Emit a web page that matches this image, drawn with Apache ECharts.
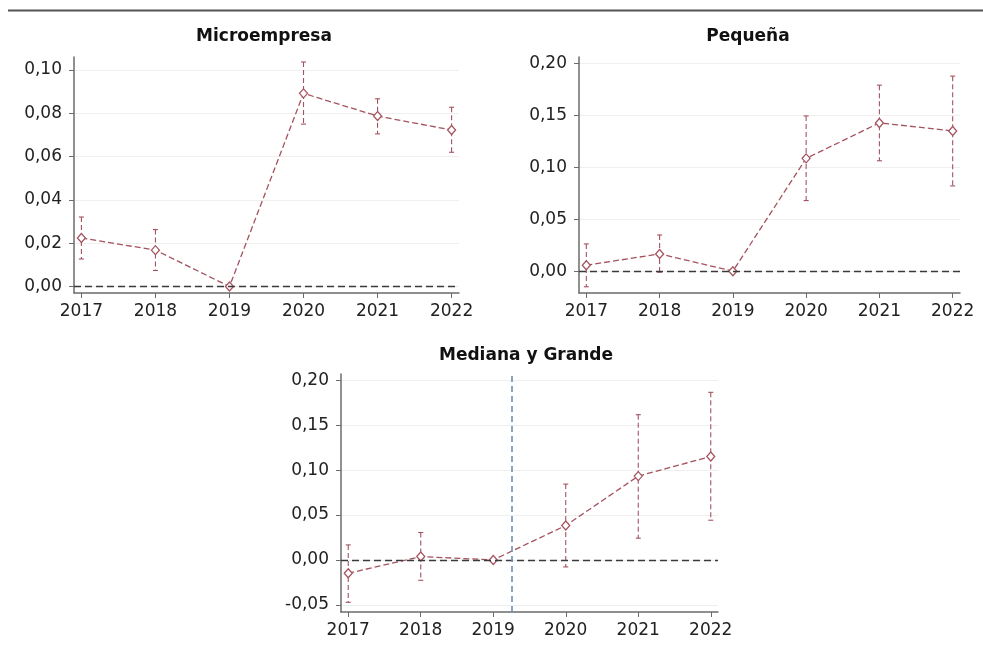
<!DOCTYPE html>
<html><head><meta charset="utf-8">
<script src="https://cdn.jsdelivr.net/npm/echarts@6/dist/echarts.min.js"></script>
<style>html,body{margin:0;padding:0;background:#fff}#c{width:983px;height:651px}</style>
</head><body><div id="c"></div>
<script>
const years = [2017, 2018, 2019, 2020, 2021, 2022];
const titles = ['Microempresa', 'Pequeña', 'Mediana y Grande'];

const microVal = [0.0224, 0.0168, 0, 0.0892, 0.0787, 0.0723];
const microLo  = [0.0127, 0.0074, null, 0.0750, 0.0705, 0.0620];
const microHi  = [0.0321, 0.0263, null, 0.1037, 0.0867, 0.0828];

const pequeVal = [0.0057, 0.0166, 0, 0.1085, 0.1426, 0.1349];
const pequeLo  = [-0.0150, -0.0010, null, 0.0679, 0.1062, 0.0820];
const pequeHi  = [0.0262, 0.0348, null, 0.1493, 0.1789, 0.1876];

const medVal = [-0.0149, 0.0037, 0, 0.0383, 0.0933, 0.1152];
const medLo  = [-0.0472, -0.0227, null, -0.0078, 0.0242, 0.0442];
const medHi  = [0.0167, 0.0305, null, 0.0844, 0.1617, 0.1866];

const microTicks = [0, 0.02, 0.04, 0.06, 0.08, 0.10];
const pequeTicks = [0, 0.05, 0.10, 0.15, 0.20];
const medTicks = [-0.05, 0, 0.05, 0.10, 0.15, 0.20];
const refLineX = 2019.25;

const RED = '#a4525e';
const AX = '#6b6b6b';
const FONT = 'DejaVu Sans';

const chart = echarts.init(document.getElementById('c'), null, {renderer: 'canvas'});

const grids = [
  {left: 74, top: 57, width: 385, height: 236},
  {left: 579, top: 57, width: 381, height: 236},
  {left: 341, top: 374, width: 377, height: 238}
];
const yRanges = [[-0.003, 0.106], [-0.021, 0.206], [-0.058, 0.207]];
const yTicks = [microTicks, pequeTicks, medTicks];
const vals = [microVal, pequeVal, medVal];
const los = [microLo, pequeLo, medLo];
const his = [microHi, pequeHi, medHi];

function fmtY(v) { return v.toFixed(2).replace('.', ','); }

const xAxes = grids.map((g, i) => ({
  type: 'value', gridIndex: i, min: 2016.9, max: 2022.1,
  axisLine: {show: true, onZero: false, lineStyle: {color: AX, width: 1.5}},
  axisTick: {show: true, length: 5, customValues: years, lineStyle: {color: AX}},
  axisLabel: {customValues: years, formatter: v => String(v), color: '#222', fontFamily: FONT, fontSize: 17, margin: 10},
  splitLine: {show: false}
}));
const yAxes = grids.map((g, i) => ({
  type: 'value', gridIndex: i, min: yRanges[i][0], max: yRanges[i][1],
  axisLine: {show: true, onZero: false, lineStyle: {color: AX, width: 1.5}},
  axisTick: {show: true, length: 5, customValues: yTicks[i], lineStyle: {color: AX}},
  axisLabel: {customValues: yTicks[i], formatter: fmtY, color: '#222', fontFamily: FONT, fontSize: 17, margin: 12},
  splitLine: {show: true, lineStyle: {color: '#efefef', width: 1}}
}));

const series = [];
grids.forEach((g, i) => {
  const errData = [];
  years.forEach((y, k) => { if (los[i][k] !== null) errData.push([y, los[i][k], his[i][k]]); });
  series.push({
    type: 'custom', xAxisIndex: i, yAxisIndex: i, z: 3, silent: true,
    data: errData,
    renderItem: function (params, api) {
      const x = api.value(0);
      const pLo = api.coord([x, api.value(1)]);
      const pHi = api.coord([x, api.value(2)]);
      const cap = 2.5;
      const st = {stroke: RED, lineWidth: 1.1};
      return {type: 'group', children: [
        {type: 'line', shape: {x1: pHi[0], y1: pHi[1], x2: pLo[0], y2: pLo[1]}, style: {stroke: RED, lineWidth: 1.1, lineDash: [5, 3]}},
        {type: 'line', shape: {x1: pHi[0] - cap, y1: pHi[1], x2: pHi[0] + cap, y2: pHi[1]}, style: st},
        {type: 'line', shape: {x1: pLo[0] - cap, y1: pLo[1], x2: pLo[0] + cap, y2: pLo[1]}, style: st}
      ]};
    }
  });
  const ml = [{yAxis: 0, lineStyle: {color: '#3a3a3a', type: [7, 4], width: 1.4}}];
  if (i === 2) ml.push({xAxis: refLineX, lineStyle: {color: '#6f8fae', type: [6, 4], width: 1.6}});
  series.push({
    type: 'line', xAxisIndex: i, yAxisIndex: i, z: 4,
    data: years.map((y, k) => [y, vals[i][k]]),
    lineStyle: {color: RED, width: 1.3, type: [6, 3]},
    symbol: 'diamond', symbolSize: [8, 9], showSymbol: true,
    itemStyle: {color: '#fff', borderColor: RED, borderWidth: 1.3},
    animation: false,
    markLine: {silent: true, symbol: 'none', label: {show: false}, animation: false, data: ml}
  });
});

chart.setOption({
  animation: false,
  backgroundColor: '#fff',
  title: [
    {text: titles[0], left: 259, top: 23, textAlign: 'center', textStyle: {fontFamily: FONT, fontWeight: 'bold', fontSize: 17, color: '#111'}},
    {text: titles[1], left: 743, top: 23, textAlign: 'center', textStyle: {fontFamily: FONT, fontWeight: 'bold', fontSize: 17, color: '#111'}},
    {text: titles[2], left: 521, top: 342, textAlign: 'center', textStyle: {fontFamily: FONT, fontWeight: 'bold', fontSize: 17, color: '#111'}}
  ],
  graphic: [{type: 'line', shape: {x1: 8, y1: 10.5, x2: 983, y2: 10.5}, style: {stroke: '#555', lineWidth: 2}}],
  grid: grids.map(g => Object.assign({containLabel: false, outerBoundsMode: 'none'}, g)),
  xAxis: xAxes,
  yAxis: yAxes,
  series: series
});
</script></body></html>
